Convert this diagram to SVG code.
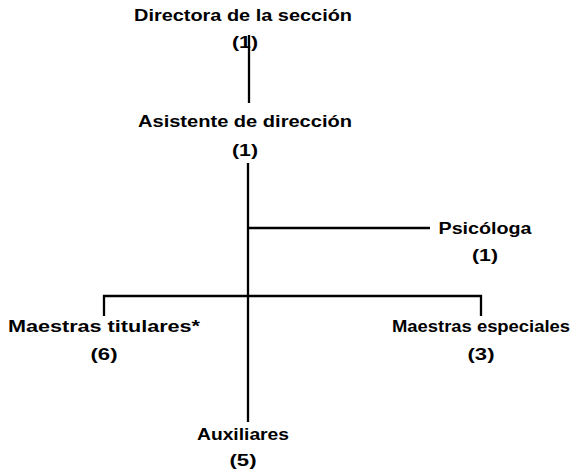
<svg xmlns="http://www.w3.org/2000/svg" width="578" height="469" viewBox="0 0 578 469">
<style>
text{font-family:"Liberation Sans",Arial,sans-serif;font-weight:bold;font-size:16px;fill:#000;text-anchor:middle}
.c{stroke:#000;stroke-width:2.3;fill:none}
</style>
<rect width="578" height="469" fill="#fff"/>
<g id="connectors">
<line class="c" x1="249" y1="35" x2="249" y2="103"/>
<line class="c" x1="248" y1="163" x2="248" y2="422"/>
<line class="c" x1="248" y1="228" x2="430" y2="228"/>
<polyline class="c" points="104,316 104,296 481,296 481,316"/>
</g>
<g id="directora"><text x="243" y="21" textLength="218" lengthAdjust="spacingAndGlyphs">Directora de la sección</text><text x="245" y="48" textLength="26" lengthAdjust="spacingAndGlyphs">(1)</text></g>
<g id="asistente"><text x="245" y="127" textLength="214" lengthAdjust="spacingAndGlyphs">Asistente de dirección</text><text x="245" y="156" textLength="26" lengthAdjust="spacingAndGlyphs">(1)</text></g>
<g id="psicologa"><text x="485" y="234" textLength="93" lengthAdjust="spacingAndGlyphs">Psicóloga</text><text x="485" y="261" textLength="26" lengthAdjust="spacingAndGlyphs">(1)</text></g>
<g id="titulares"><text x="104" y="332" textLength="192" lengthAdjust="spacingAndGlyphs">Maestras titulares*</text><text x="104" y="360" textLength="27" lengthAdjust="spacingAndGlyphs">(6)</text></g>
<g id="especiales"><text x="481" y="332" textLength="178" lengthAdjust="spacingAndGlyphs">Maestras especiales</text><text x="481" y="360" textLength="27" lengthAdjust="spacingAndGlyphs">(3)</text></g>
<g id="auxiliares"><text x="243" y="440" textLength="92" lengthAdjust="spacingAndGlyphs">Auxiliares</text><text x="243" y="466" textLength="27" lengthAdjust="spacingAndGlyphs">(5)</text></g>
</svg>
